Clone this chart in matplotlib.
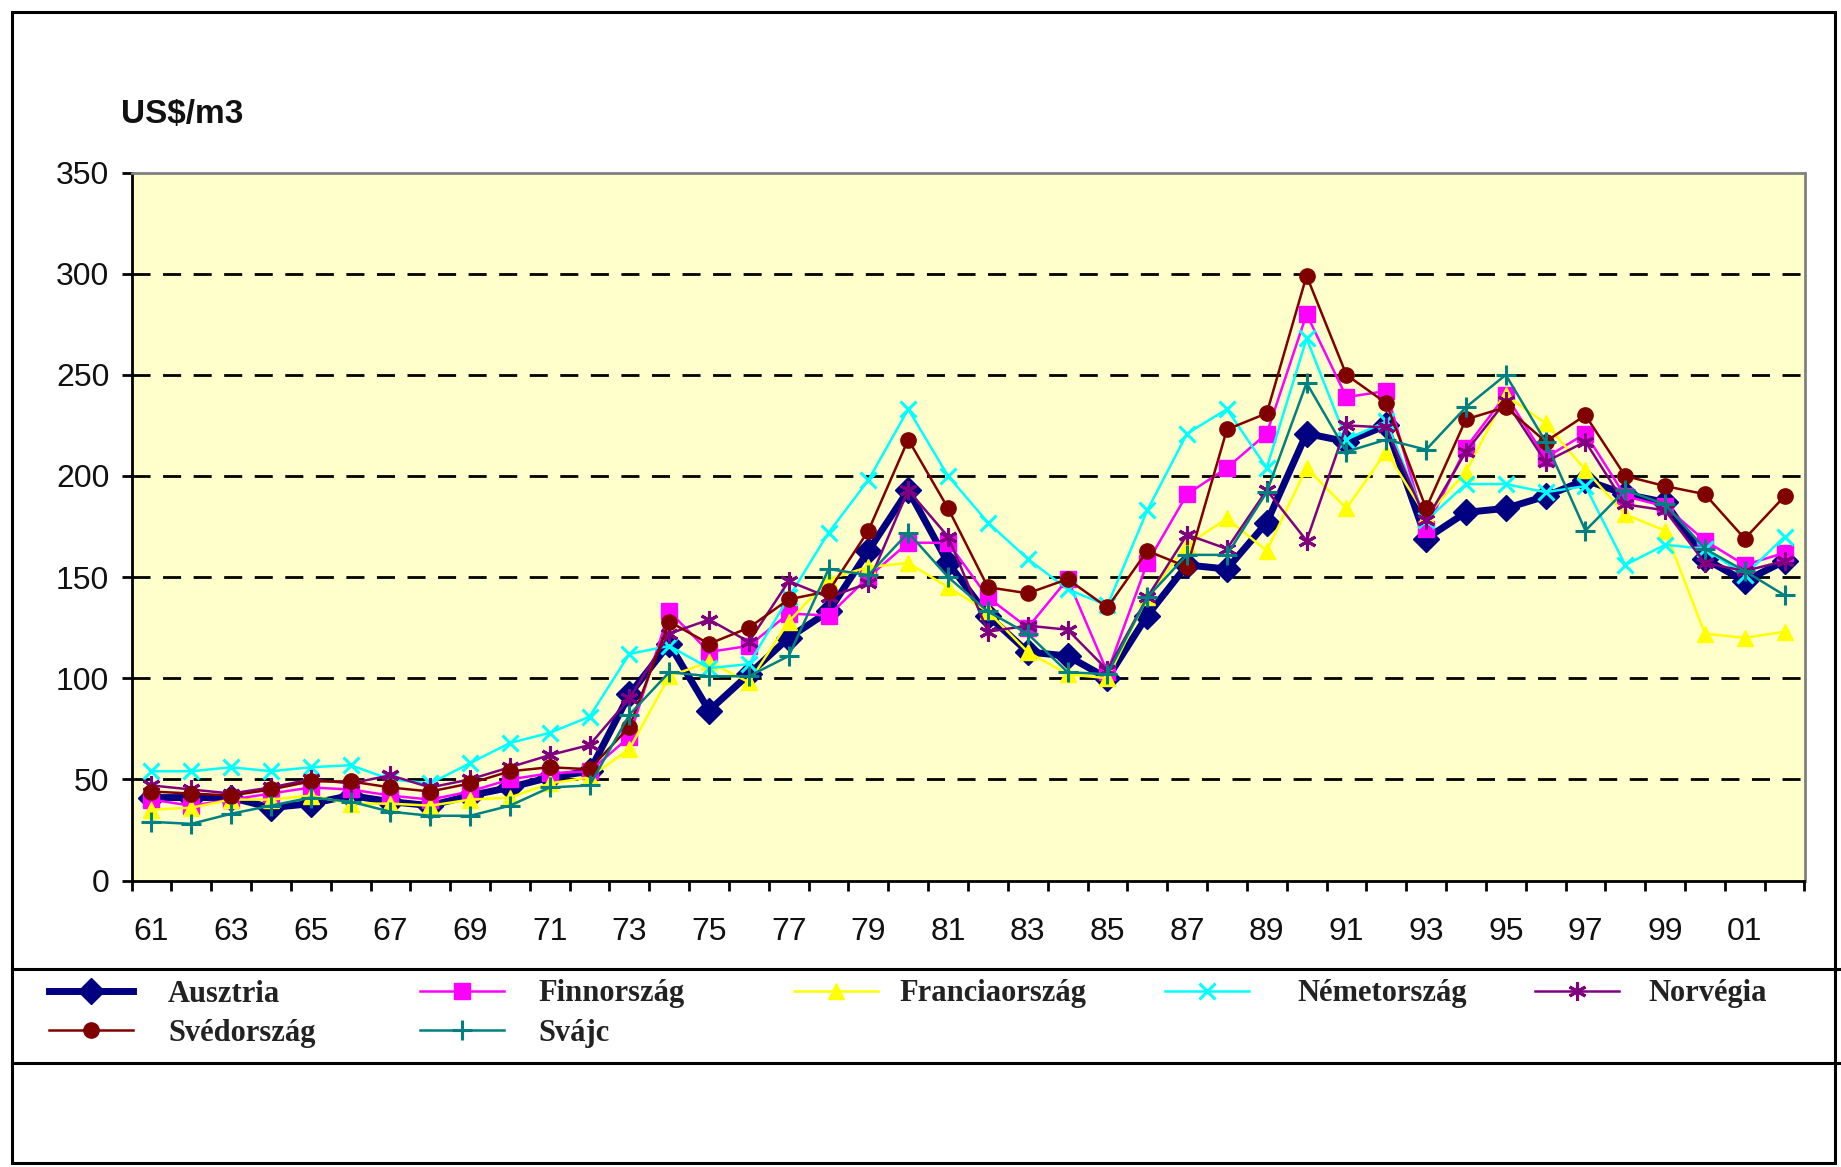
import numpy as np
import matplotlib
matplotlib.use("Agg")
import matplotlib.pyplot as plt
from matplotlib.lines import Line2D
from matplotlib.patches import Rectangle

# ---------------- data ----------------
years = list(range(1961, 2003))
year_labels = ["%02d" % (y % 100) for y in years]

ausztria = [41, 41, 41, 36, 38, 42, 39, 37, 42, 46, 51, 54, 92, 117, 84, 102, 120, 133, 163, 193,
            157, 131, 113, 111, 100, 131, 156, 154, 177, 221, 217, 225, 169, 182, 184, 190, 198, 191,
            187, 159, 148, 158]
finnorszag = [40, 37, 40, 43, 46, 45, 42, 40, 44, 50, 53, 54, 71, 133, 113, 116, 132, 131, 150, 167,
              167, 140, 125, 149, 103, 157, 191, 204, 221, 280, 239, 242, 174, 214, 240, 209, 221, 190,
              185, 168, 156, 162]
franciaorszag = [35, 36, 40, 40, 42, 38, 38, 37, 40, 41, 48, 51, 65, 101, 108, 98, 128, 149, 155, 157,
                 145, 133, 113, 102, 100, 140, 166, 179, 163, 204, 184, 212, 180, 202, 240, 226, 203, 181,
                 173, 122, 120, 123]
nemetorszag = [54, 54, 56, 54, 56, 57, 50, 48, 58, 68, 73, 81, 112, 116, 105, 107, 140, 172, 198, 233,
               200, 177, 159, 144, 136, 183, 221, 233, 204, 268, 218, 227, 178, 196, 196, 192, 195, 156,
               166, 164, 151, 170]
norvegia = [47, 45, 43, 46, 50, 48, 52, 46, 50, 56, 62, 67, 90, 122, 129, 118, 148, 140, 147, 193,
            170, 123, 126, 124, 104, 140, 171, 164, 193, 168, 225, 224, 178, 212, 237, 207, 217, 186,
            183, 157, 153, 158]
svedorszag = [44, 43, 42, 45, 49, 49, 46, 44, 48, 54, 56, 55, 76, 128, 117, 125, 139, 143, 173, 218,
              184, 145, 142, 149, 135, 163, 155, 223, 231, 299, 250, 236, 184, 228, 234, 217, 230, 200,
              195, 191, 169, 190]
svajc = [29, 28, 33, 37, 41, 39, 34, 32, 32, 37, 46, 47, 82, 103, 101, 101, 111, 154, 151, 172,
         150, 133, 122, 103, 102, 140, 161, 161, 192, 246, 212, 218, 213, 234, 250, 217, 173, 193,
         186, 164, 153, 141]

series_names = ["Ausztria", "Finnország", "Franciaország", "Németország", "Norvégia",
                "Svédország", "Svájc"]
series_values = [ausztria, finnorszag, franciaorszag, nemetorszag, norvegia, svedorszag, svajc]
y_ticks = [0, 50, 100, 150, 200, 250, 300, 350]
unit_label = "US$/m3"

# ---------------- styles ----------------
styles = {
    "Ausztria":      dict(color="#000080", lw=5.0, marker="D", ms=13, mew=1.0),
    "Finnország":    dict(color="#FF00FF", lw=1.8, marker="s", ms=11, mew=1.0),
    "Franciaország": dict(color="#FFFF00", lw=1.8, marker="^", ms=11, mew=1.0),
    "Németország":   dict(color="#00FFFF", lw=1.8, marker="x", ms=11, mew=2.2),
    "Norvégia":      dict(color="#800080", lw=1.8, marker=(6, 2, 0), ms=13, mew=2.2),
    "Svédország":    dict(color="#800000", lw=1.8, marker="o", ms=11, mew=1.0),
    "Svájc":         dict(color="#008080", lw=1.8, marker="+", ms=14, mew=2.2),
}

W, H = 1841, 1167
fig = plt.figure(figsize=(W / 100, H / 100), dpi=100)
fig.patch.set_facecolor("white")

# axes position (pixels -> fractions)
ax_l, ax_r, ax_t, ax_b = 131.5, 1804.5, 172.6, 880.5
ax = fig.add_axes([ax_l / W, 1 - ax_b / H, (ax_r - ax_l) / W, (ax_b - ax_t) / H])
ax.set_facecolor("#FFFFCC")

x = np.arange(len(years))

# dashed grid lines
for yv in y_ticks[1:-1]:
    ax.axhline(yv, color="black", lw=2.0, linestyle=(0, (6.5, 4.5)), zorder=1)

handles = {}
for name, vals in zip(series_names, series_values):
    st = styles[name]
    (h,) = ax.plot(x, vals, color=st["color"], lw=st["lw"], marker=st["marker"],
                   markersize=st["ms"], markeredgewidth=st["mew"],
                   markerfacecolor=st["color"], markeredgecolor=st["color"], zorder=3)
    handles[name] = h

ax.set_xlim(-0.5, len(years) - 0.5)
ax.set_ylim(0, 350)

# x ticks: at category boundaries, labels every other year
ax.set_xticks(np.arange(-0.5, len(years), 1.0))
ax.set_xticklabels([])
ax.set_xticks(x[::2], minor=True)
ax.set_xticklabels(year_labels[::2], minor=True)
ax.tick_params(axis="x", which="major", direction="out", length=7, width=2, color="black")
ax.tick_params(axis="x", which="minor", length=0, pad=26, labelsize=23)

ax.set_yticks(y_ticks)
ax.set_yticklabels([str(v) for v in y_ticks])
ax.tick_params(axis="y", direction="out", length=7, width=2, pad=9, labelsize=23)

for lab in ax.get_xticklabels(minor=True) + ax.get_yticklabels():
    lab.set_family("Liberation Sans")
    lab.set_color("#111111")

ax.spines["left"].set_color("black")
ax.spines["left"].set_linewidth(2)
ax.spines["bottom"].set_color("black")
ax.spines["bottom"].set_linewidth(2)
ax.spines["top"].set_color("#808080")
ax.spines["top"].set_linewidth(2)
ax.spines["right"].set_color("#808080")
ax.spines["right"].set_linewidth(2)

# unit label
fig.text(121 / W, 1 - 114 / H, unit_label, ha="left", va="center", fontsize=24,
         fontweight="bold", family="Liberation Sans", color="#111111")

# ---------------- legend (one entry per anchor) ----------------
fs_leg = 22
em_px = fs_leg * 100 / 72
line_px = 84
leg_pos = {
    "Ausztria":      (49, 994, 168),
    "Finnország":    (420, 994, 538),
    "Franciaország": (794, 994, 899),
    "Németország":   (1165, 994, 1297),
    "Norvégia":      (1535, 994, 1648),
    "Svédország":    (49, 1033, 168),
    "Svájc":         (420, 1033, 538),
}
for name in series_names:
    lx, ly, tx = leg_pos[name]
    pad = (tx - lx - line_px) / em_px
    leg = fig.legend([handles[name]], [name], loc="center left",
                     bbox_to_anchor=(lx / W, 1 - ly / H), bbox_transform=fig.transFigure,
                     frameon=False, borderpad=0, borderaxespad=0,
                     handlelength=line_px / em_px, handletextpad=pad,
                     prop={"family": "Liberation Serif", "size": fs_leg, "weight": "bold"})
    for t in leg.get_texts():
        t.set_color("#222222")

# ---------------- frame ----------------
fig.add_artist(Rectangle((12 / W, 1 - 1163 / H), (1835 - 12) / W, (1163 - 12) / H,
                         transform=fig.transFigure, fill=False, lw=2.2, ec="black"))
for yy in (969, 1063):
    fig.add_artist(Line2D([12 / W, 1.0], [1 - yy / H, 1 - yy / H],
                          transform=fig.transFigure, color="black", lw=2.2))

fig.savefig("out.png", dpi=100, facecolor="white")
